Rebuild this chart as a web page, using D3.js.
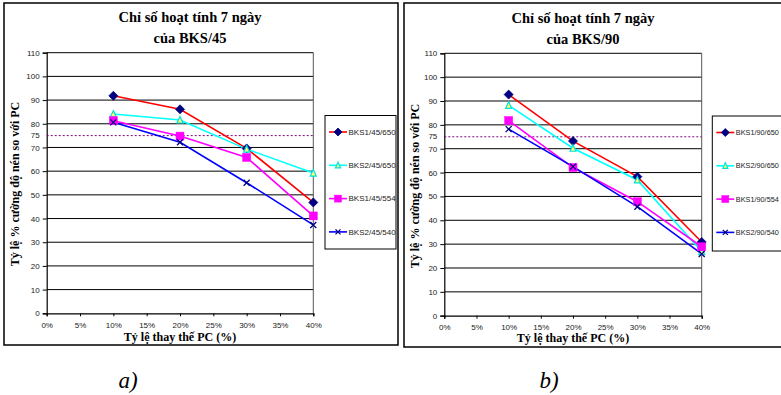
<!DOCTYPE html>
<html>
<head>
<meta charset="utf-8">
<script src="https://cdn.jsdelivr.net/npm/d3@7"></script>
<style>
  html, body { margin: 0; padding: 0; background: #fff; }
  svg { display: block; }
</style>
</head>
<body>
<svg id="fig" width="781" height="395"></svg>
<script>
// Replacement levels (% of PC replaced) and axis ticks
const replacement = [10, 20, 30, 40];
const xTicks = [0, 5, 10, 15, 20, 25, 30, 35, 40];
const yTicks = [0, 10, 20, 30, 40, 50, 60, 70, 80, 90, 100, 110];
const threshold = 75;

// 7-day activity index, BKS/45 series
const bks1_45_650 = [91.8, 86.1, 69.6, 46.8];
const bks2_45_650 = [84.1, 81.6, 69.3, 59.2];
const bks1_45_554 = [81.3, 74.8, 65.8, 41.1];
const bks2_45_540 = [80.6, 72.2, 55.1, 37.3];

// 7-day activity index, BKS/90 series
const bks1_90_650 = [92.7, 73.2, 58.3, 30.9];
const bks2_90_650 = [88.2, 70.2, 56.9, 26.9];
const bks1_90_554 = [81.8, 62.1, 47.8, 28.9];
const bks2_90_540 = [78.2, 62.5, 45.7, 25.9];

const names45 = ["BKS1/45/650", "BKS2/45/650", "BKS1/45/554", "BKS2/45/540"];
const names90 = ["BKS1/90/650", "BKS2/90/650", "BKS1/90/554", "BKS2/90/540"];

// Line and marker styling per series slot
const styles = [
  { line: "#ff0000", marker: "diamond",  fill: "#000080", stroke: "#000080", size: 9 },
  { line: "#00ffff", marker: "triangle", fill: "#ffff66", stroke: "#00e0e0", size: 6 },
  { line: "#ff00ff", marker: "square",   fill: "#ff00ff", stroke: "#ff00ff", size: 8 },
  { line: "#0000ff", marker: "cross",    fill: "none",    stroke: "#000080", size: 6 }
];

const svg = d3.select("#fig");

function drawMarker(g, type, cx, cy, s, st) {
  if (type === "diamond") {
    g.append("path")
      .attr("d", `M${cx},${cy - s / 2}L${cx + s / 2},${cy}L${cx},${cy + s / 2}L${cx - s / 2},${cy}Z`)
      .attr("fill", st.fill).attr("stroke", st.stroke).attr("stroke-width", 0.8);
  } else if (type === "triangle") {
    g.append("path")
      .attr("d", `M${cx},${cy - s / 2 - 0.5}L${cx + s / 2},${cy + s / 2}L${cx - s / 2},${cy + s / 2}Z`)
      .attr("fill", st.fill).attr("stroke", st.stroke).attr("stroke-width", 1.2);
  } else if (type === "square") {
    g.append("rect")
      .attr("x", cx - s / 2).attr("y", cy - s / 2)
      .attr("width", s).attr("height", s)
      .attr("fill", st.fill).attr("stroke", st.stroke).attr("stroke-width", 0.5);
  } else if (type === "cross") {
    const h = s / 2;
    g.append("path")
      .attr("d", `M${cx - h},${cy - h}L${cx + h},${cy + h}M${cx - h},${cy + h}L${cx + h},${cy - h}`)
      .attr("fill", "none").attr("stroke", st.stroke).attr("stroke-width", 1.3);
  }
}

function drawChart(cfg) {
  const g = svg.append("g");

  // outer frame
  g.append("rect")
    .attr("x", cfg.frame.x).attr("y", cfg.frame.y)
    .attr("width", cfg.frame.w).attr("height", cfg.frame.h)
    .attr("fill", "#fff").attr("stroke", "#000").attr("stroke-width", 1.5);

  const x = d3.scaleLinear().domain([0, 40]).range([cfg.plot.x0, cfg.plot.x1]);
  const y = d3.scaleLinear().domain([0, 110]).range([cfg.plot.y1, cfg.plot.y0]);

  // horizontal gridlines
  g.append("g").selectAll("line").data(yTicks.filter(v => v > 0)).join("line")
    .attr("x1", cfg.plot.x0).attr("x2", cfg.plot.x1)
    .attr("y1", d => y(d)).attr("y2", d => y(d))
    .attr("stroke", "#000").attr("stroke-width", 1);

  // right edge of plot area
  g.append("line")
    .attr("x1", cfg.plot.x1).attr("x2", cfg.plot.x1)
    .attr("y1", cfg.plot.y0).attr("y2", cfg.plot.y1)
    .attr("stroke", "#555").attr("stroke-width", 1);

  // y axis
  const yAxis = d3.axisLeft(y).tickValues(yTicks).tickSize(4).tickPadding(3);
  const ya = g.append("g").attr("transform", `translate(${cfg.plot.x0},0)`).call(yAxis);
  ya.select(".domain").attr("stroke", "#000").attr("stroke-width", 1.2);
  ya.selectAll(".tick line").attr("stroke", "#000");
  ya.selectAll(".tick text")
    .attr("font-family", "Liberation Sans, Arial, sans-serif")
    .attr("font-size", 8).attr("fill", "#222");

  // extra label for the 75 threshold
  g.append("text")
    .attr("x", cfg.plot.x0 - 7).attr("y", y(threshold))
    .attr("dy", "0.32em").attr("text-anchor", "end")
    .attr("font-family", "Liberation Sans, Arial, sans-serif")
    .attr("font-size", 8).attr("fill", "#222")
    .text(threshold);

  // x axis
  const xAxis = d3.axisBottom(x).tickValues(xTicks).tickSize(3).tickPadding(6)
    .tickFormat(d => d + "%");
  const xa = g.append("g").attr("transform", `translate(0,${cfg.plot.y1})`).call(xAxis);
  xa.select(".domain").attr("stroke", "#000").attr("stroke-width", 1.2);
  xa.selectAll(".tick line").attr("stroke", "#000");
  xa.selectAll(".tick text")
    .attr("font-family", "Liberation Sans, Arial, sans-serif")
    .attr("font-size", 8).attr("fill", "#222");

  // threshold line
  g.append("line")
    .attr("x1", cfg.plot.x0).attr("x2", cfg.plot.x1)
    .attr("y1", y(threshold)).attr("y2", y(threshold))
    .attr("stroke", "#800080").attr("stroke-width", 1)
    .attr("stroke-dasharray", "2,2");

  // series lines and markers
  const line = d3.line().x((d, i) => x(replacement[i])).y(d => y(d));
  cfg.series.forEach((vals, k) => {
    const st = styles[k];
    g.append("path").datum(vals)
      .attr("d", line).attr("fill", "none")
      .attr("stroke", st.line).attr("stroke-width", 1.6);
  });
  cfg.series.forEach((vals, k) => {
    const st = styles[k];
    const mg = g.append("g");
    vals.forEach((v, i) => drawMarker(mg, st.marker, x(replacement[i]), y(v), st.size, st));
  });

  // titles
  const title = g.append("text")
    .attr("text-anchor", "middle")
    .attr("font-family", "Liberation Serif, Times New Roman, serif")
    .attr("font-weight", "bold").attr("font-size", 14.5).attr("fill", "#000");
  title.append("tspan").attr("x", cfg.titleX).attr("y", cfg.titleY).text(cfg.title[0]);
  title.append("tspan").attr("x", cfg.titleX).attr("y", cfg.titleY + 21).text(cfg.title[1]);

  g.append("text")
    .attr("x", cfg.xTitleX).attr("y", cfg.xTitleY)
    .attr("text-anchor", "middle")
    .attr("font-family", "Liberation Serif, Times New Roman, serif")
    .attr("font-weight", "bold").attr("font-size", 12).attr("fill", "#000")
    .text("Tỷ lệ thay thế PC (%)");

  g.append("text")
    .attr("transform", `translate(${cfg.yTitleX},${cfg.yTitleY}) rotate(-90)`)
    .attr("text-anchor", "middle")
    .attr("font-family", "Liberation Serif, Times New Roman, serif")
    .attr("font-weight", "bold").attr("font-size", 12).attr("fill", "#000")
    .text("Tỷ lệ % cường độ nén so với PC");

  // legend
  const lg = cfg.legend;
  g.append("rect")
    .attr("x", lg.x).attr("y", lg.y).attr("width", lg.w).attr("height", lg.h)
    .attr("fill", "#fff").attr("stroke", "#000").attr("stroke-width", 1);
  cfg.names.forEach((name, k) => {
    const st = styles[k];
    const cy = lg.y + 16.5 + k * 33.3;
    g.append("line")
      .attr("x1", lg.x + 4).attr("x2", lg.x + 22)
      .attr("y1", cy).attr("y2", cy)
      .attr("stroke", st.line).attr("stroke-width", 1.6);
    const mg = g.append("g");
    drawMarker(mg, st.marker, lg.x + 13, cy, st.marker === "square" ? 7 : st.size - 1, st);
    g.append("text")
      .attr("x", lg.x + 23.5).attr("y", cy).attr("dy", "0.35em")
      .attr("font-family", "Liberation Sans, Arial, sans-serif")
      .attr("font-size", lg.font).attr("fill", "#222")
      .text(name);
  });

  // panel caption
  g.append("text")
    .attr("x", cfg.capX).attr("y", 388)
    .attr("text-anchor", "middle")
    .attr("font-family", "Liberation Serif, Times New Roman, serif")
    .attr("font-style", "italic").attr("font-size", 23).attr("fill", "#000")
    .text(cfg.caption);
}

drawChart({
  frame: { x: 4, y: 3, w: 394, h: 342 },
  plot: { x0: 46.7, x1: 313.3, y0: 52.7, y1: 313.3 },
  title: ["Chỉ số hoạt tính 7 ngày", "của BKS/45"],
  titleX: 190, titleY: 22,
  xTitleX: 180, xTitleY: 341,
  yTitleX: 19, yTitleY: 184,
  legend: { x: 325, y: 115.5, w: 71, h: 133.5, font: 8 },
  names: names45,
  series: [bks1_45_650, bks2_45_650, bks1_45_554, bks2_45_540],
  caption: "a)", capX: 128
});

drawChart({
  frame: { x: 404, y: 3, w: 380, h: 344 },
  plot: { x0: 444.3, x1: 701.7, y0: 53.3, y1: 315.7 },
  title: ["Chỉ số hoạt tính 7 ngày", "của BKS/90"],
  titleX: 583, titleY: 23,
  xTitleX: 573, xTitleY: 342,
  yTitleX: 419, yTitleY: 186,
  legend: { x: 712.3, y: 116, w: 80, h: 135, font: 7.3 },
  names: names90,
  series: [bks1_90_650, bks2_90_650, bks1_90_554, bks2_90_540],
  caption: "b)", capX: 549
});
</script>
</body>
</html>
